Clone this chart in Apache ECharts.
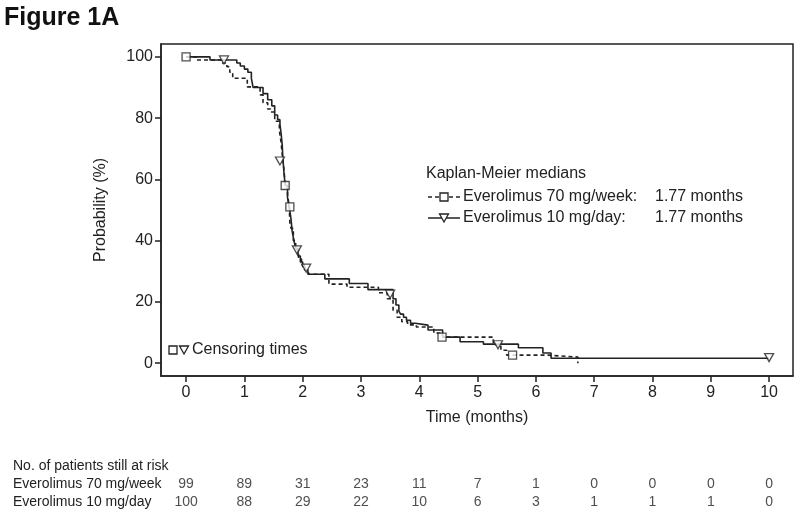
<!DOCTYPE html>
<html><head><meta charset="utf-8">
<script src="https://cdn.jsdelivr.net/npm/echarts@6/dist/echarts.min.js"></script>
<style>html,body{margin:0;padding:0;background:#fff}#c{width:800px;height:515px}</style>
</head><body><div id="c"></div>
<script>
// ---- data ----
const xTicks = [0,1,2,3,4,5,6,7,8,9,10];
const yTicks = [0,20,40,60,80,100];
const arm70Name = 'Everolimus 70 mg/week';
const arm10Name = 'Everolimus 10 mg/day';
const riskHeader = 'No. of patients still at risk';
// Kaplan-Meier steps [time (months), probability (%)]
const km70 = [[0,100],[0.17,99],[0.6,98],[0.7,96.8],[0.75,95],[0.8,93],[1.05,90.2],[1.27,87.6],[1.32,85],[1.4,83],[1.45,82],[1.52,79],[1.6,76],[1.63,72],[1.65,68],[1.68,63],[1.7,58],[1.74,55],[1.77,51],[1.78,46],[1.8,44],[1.84,40],[1.88,37],[1.93,34],[1.98,32],[2.03,30.5],[2.1,29],[2.45,25.8],[2.76,24.8],[3.3,23],[3.45,21],[3.55,17.3],[3.62,15],[3.7,13.5],[3.8,12.5],[3.95,11.8],[4.25,9.8],[4.4,8.5],[5.27,6],[5.4,4.2],[5.5,2.6],[6.2,2],[6.72,0]];
const km10 = [[0,100],[0.41,99],[0.87,98],[0.93,97],[1.0,96],[1.06,95],[1.12,93],[1.15,90],[1.32,88],[1.4,86],[1.47,84],[1.52,81],[1.57,79.5],[1.61,78],[1.63,75],[1.65,71],[1.66,67],[1.68,62],[1.7,58],[1.74,54],[1.77,51],[1.8,47],[1.82,43],[1.85,40],[1.88,37.5],[1.92,35],[1.96,33],[2.0,31.5],[2.04,30.5],[2.09,29],[2.38,27.5],[2.8,26],[3.12,24],[3.55,21],[3.6,19],[3.65,17],[3.68,16],[3.73,15],[3.78,14],[3.85,13],[3.93,12.4],[4.15,10.8],[4.4,8.5],[4.7,7],[5.1,6.2],[5.7,5],[6.12,3.3],[6.26,1.6],[10,1.6]];
const censor70 = [[0,100],[1.70,58],[1.78,51],[4.39,8.5],[5.6,2.6]];
const censor10 = [[0.65,99],[1.61,66],[1.9,37],[2.06,31],[3.5,22.5],[5.35,6],[10,1.8]];
const medians = [1.77, 1.77];
const riskTimes = [0,1,2,3,4,5,6,7,8,9,10];
const risk70 = [99,89,31,23,11,7,1,0,0,0,0];
const risk10 = [100,88,29,22,10,6,3,1,1,1,0];

// ---- chart ----
const INK = '#222';
const FONT = '"Liberation Sans", Arial, sans-serif';
const chart = echarts.init(document.getElementById('c'), null, {renderer:'canvas'});

const riskData = [];
riskTimes.forEach((t,i)=>{ riskData.push([t, arm70Name, risk70[i]]); });
riskTimes.forEach((t,i)=>{ riskData.push([t, arm10Name, risk10[i]]); });

function tri(cx, cy, w, h){ return [[cx-w/2, cy-h/2],[cx+w/2, cy-h/2],[cx, cy+h/2]]; }

const option = {
  backgroundColor:'#fff',
  animation:false,
  textStyle:{fontFamily:FONT, color:INK},
  grid:[
    {left:161, top:44, width:632, height:332, show:true, borderColor:INK, borderWidth:1.5, backgroundColor:'transparent'},
    {left:161, top:457, width:632, height:54}
  ],
  xAxis:[
    {gridIndex:0, type:'value', min:-0.43, max:10.41,
     axisLine:{show:true, onZero:false, lineStyle:{color:INK, width:1.5}},
     axisTick:{show:true, customValues:xTicks, length:6, lineStyle:{color:INK, width:1.5}},
     axisLabel:{customValues:xTicks, margin:9, fontSize:16, color:INK, fontFamily:FONT},
     splitLine:{show:false},
     name:'Time (months)', nameLocation:'middle', nameGap:34,
     nameTextStyle:{fontSize:16, color:INK, fontFamily:FONT}},
    {gridIndex:1, type:'value', min:-0.43, max:10.41, show:false}
  ],
  yAxis:[
    {gridIndex:0, type:'value', min:-4.2, max:104.2,
     axisLine:{show:true, onZero:false, lineStyle:{color:INK, width:1.5}},
     axisTick:{show:true, customValues:yTicks, length:6, lineStyle:{color:INK, width:1.5}},
     axisLabel:{customValues:yTicks, margin:8, fontSize:16, color:INK, fontFamily:FONT},
     splitLine:{show:false},
     name:'Probability (%)', nameLocation:'middle', nameGap:52,
     nameTextStyle:{fontSize:16, color:INK, fontFamily:FONT}},
    {gridIndex:1, type:'category', inverse:true,
     data:[riskHeader, arm70Name, arm10Name],
     axisLine:{show:false}, axisTick:{show:false}, splitLine:{show:false},
     axisLabel:{interval:0, hideOverlap:false, align:'left', margin:148, fontSize:14, color:INK, fontFamily:FONT}}
  ],
  series:[
    {name:arm70Name, type:'line', step:'end', data:km70, symbol:'none', xAxisIndex:0, yAxisIndex:0,
     lineStyle:{color:INK, width:1.6, type:[4,3]}, z:2},
    {name:arm10Name, type:'line', step:'end', data:km10, symbol:'none', xAxisIndex:0, yAxisIndex:0,
     lineStyle:{color:INK, width:1.6}, z:3},
    {type:'scatter', data:censor70, symbol:'rect', symbolSize:8, xAxisIndex:0, yAxisIndex:0,
     itemStyle:{color:'#fff', borderColor:INK, borderWidth:1.3}, z:5},
    {type:'scatter', data:censor10, symbol:'triangle', symbolRotate:180, symbolSize:[9,8], xAxisIndex:0, yAxisIndex:0,
     itemStyle:{color:'#fff', borderColor:INK, borderWidth:1.3}, z:5},
    {type:'scatter', data:riskData, xAxisIndex:1, yAxisIndex:1, symbolSize:1,
     itemStyle:{color:'transparent'},
     label:{show:true, position:'inside', formatter:p=>String(p.value[2]), fontSize:14, color:INK, fontFamily:FONT}}
  ],
  graphic:[
    {type:'text', left:4, top:6, style:{text:'Figure 1A', font:'bold 25px '+FONT, fill:'#111'}},
    {type:'text', x:426, y:174, style:{text:'Kaplan-Meier medians', font:'16px '+FONT, fill:INK, verticalAlign:'middle'}},
    {type:'line', shape:{x1:428,y1:197,x2:460,y2:197}, style:{stroke:INK, lineWidth:1.5, lineDash:[4,3]}},
    {type:'rect', shape:{x:440,y:193,width:8,height:8}, style:{fill:'#fff', stroke:INK, lineWidth:1.3}},
    {type:'text', x:463, y:197, style:{text:arm70Name+':', font:'16px '+FONT, fill:INK, verticalAlign:'middle'}},
    {type:'text', x:655, y:197, style:{text:medians[0].toFixed(2)+' months', font:'16px '+FONT, fill:INK, verticalAlign:'middle'}},
    {type:'line', shape:{x1:428,y1:218,x2:460,y2:218}, style:{stroke:INK, lineWidth:1.5}},
    {type:'polygon', shape:{points:tri(444,218,9,8)}, style:{fill:'#fff', stroke:INK, lineWidth:1.3}},
    {type:'text', x:463, y:218, style:{text:arm10Name+':', font:'16px '+FONT, fill:INK, verticalAlign:'middle'}},
    {type:'text', x:655, y:218, style:{text:medians[1].toFixed(2)+' months', font:'16px '+FONT, fill:INK, verticalAlign:'middle'}},
    {type:'rect', shape:{x:169,y:346,width:8,height:8}, style:{fill:'#fff', stroke:INK, lineWidth:1.3}},
    {type:'polygon', shape:{points:tri(184,350,9,8)}, style:{fill:'#fff', stroke:INK, lineWidth:1.3}},
    {type:'text', x:192, y:350, style:{text:'Censoring times', font:'16px '+FONT, fill:INK, verticalAlign:'middle'}}
  ]
};
chart.setOption(option);
</script>
</body></html>
